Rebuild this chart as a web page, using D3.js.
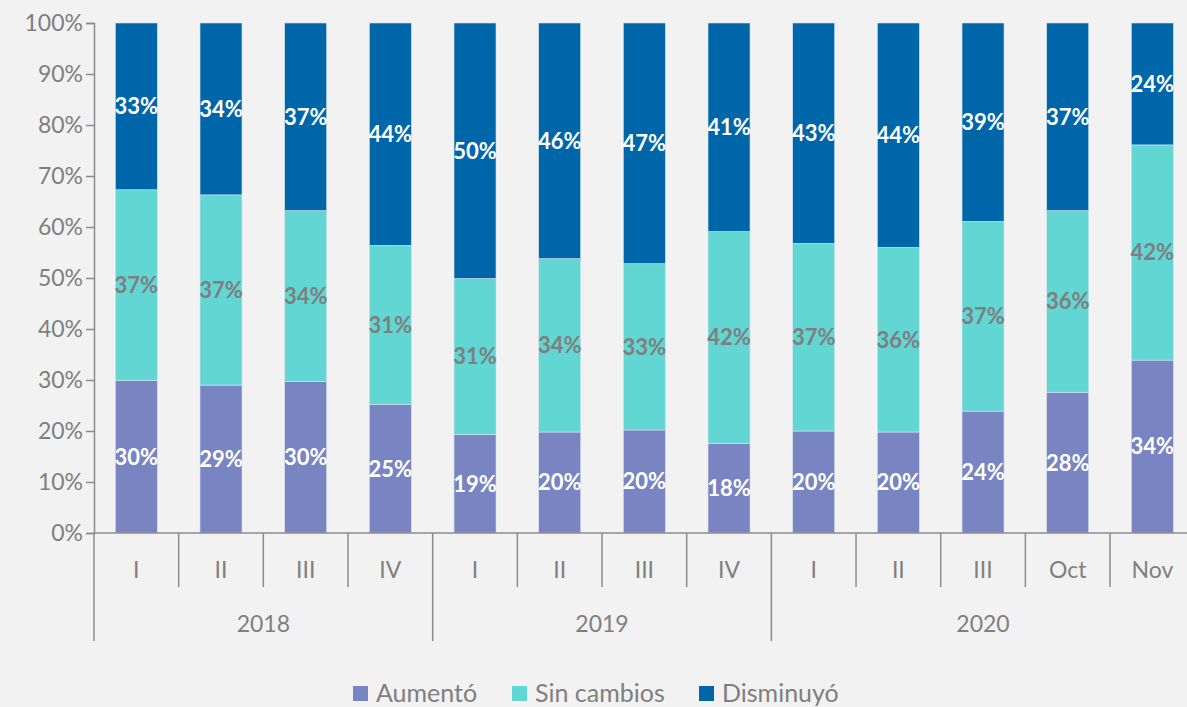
<!DOCTYPE html>
<html>
<head>
<meta charset="utf-8">
<script src="https://cdn.jsdelivr.net/npm/d3@7"></script>
<style>
  body { margin: 0; background: #f2f2f2; }
  svg { display: block; }
</style>
</head>
<body>
<svg id="chart"></svg>
<script>
// data
let periods = ["I", "II", "III", "IV", "I", "II", "III", "IV", "I", "II", "III", "Oct", "Nov"];
let years = ["2018", "2018", "2018", "2018", "2019", "2019", "2019", "2019", "2020", "2020", "2020", "2020", "2020"];
let aumento = [29.9, 29.0, 29.7, 25.2, 19.3, 19.8, 20.2, 17.6, 20.0, 19.8, 23.9, 27.6, 33.9];
let sinCambios = [37.4, 37.3, 33.5, 31.2, 30.6, 34.0, 32.6, 41.5, 36.8, 36.2, 37.2, 35.6, 42.2];
let disminuyo = [32.7, 33.7, 36.8, 43.6, 50.1, 46.2, 47.2, 40.9, 43.2, 44.0, 38.9, 36.8, 23.9];
let yTicks = [0, 10, 20, 30, 40, 50, 60, 70, 80, 90, 100];
let seriesNames = ["Aumentó", "Sin cambios", "Disminuyó"];

let colors = ["#7985c2", "#62d6d2", "#0066aa"];
let labelColors = ["#ffffff", "#7f7f7f", "#ffffff"];

var svg = d3.select("#chart").attr("width", 1187).attr("height", 707);

var marginLeft = 94, marginTop = 23, baseY = 533;
var band = 84.67;
var x = d3.scaleBand().domain(d3.range(periods.length)).range([marginLeft, marginLeft + band * periods.length]).paddingInner(0).paddingOuter(0);
var y = d3.scaleLinear().domain([0, 100]).range([baseY, marginTop]);
var barW = 42;

var rows = periods.map(function (p, i) {
    return { i: i, a: aumento[i], s: sinCambios[i], d: disminuyo[i] };
});
var stack = d3.stack().keys(["a", "s", "d"])(rows);

var font = "Lato, 'Open Sans', sans-serif";

// y axis
var yAxis = svg.append("g")
    .attr("transform", "translate(" + marginLeft + ",0)")
    .call(d3.axisLeft(y).tickValues(yTicks).tickSize(8).tickFormat(function (d) { return d + "%"; }));
yAxis.select(".domain").attr("stroke", "#8c8c8c").attr("stroke-width", 1.5);
yAxis.selectAll(".tick line").attr("stroke", "#8c8c8c").attr("stroke-width", 1.5);
yAxis.selectAll(".tick text")
    .attr("fill", "#7f7f7f")
    .attr("font-family", font)
    .attr("font-size", "23px")
    .attr("x", -11);

// bars
var layers = svg.append("g").selectAll("g")
    .data(stack)
    .enter().append("g")
    .attr("fill", function (d, k) { return colors[k]; });

layers.selectAll("rect")
    .data(function (d) { return d; })
    .enter().append("rect")
    .attr("x", function (d) { return x(d.data.i) + (band - barW) / 2; })
    .attr("width", barW)
    .attr("y", function (d) { return y(d[1]); })
    .attr("height", function (d) { return y(d[0]) - y(d[1]); })
    .attr("stroke", "#d6e4ef")
    .attr("stroke-width", 0.6);

// value labels
layers.each(function (layer, k) {
    d3.select(this).selectAll("text")
        .data(layer)
        .enter().append("text")
        .attr("x", function (d) { return x(d.data.i) + band / 2; })
        .attr("y", function (d) { return (y(d[0]) + y(d[1])) / 2; })
        .attr("dy", "0.36em")
        .attr("text-anchor", "middle")
        .attr("fill", labelColors[k])
        .attr("font-family", font)
        .attr("font-weight", "bold")
        .attr("font-size", "22px")
        .text(function (d) { return Math.round(d[1] - d[0]) + "%"; });
});

// x axis: baseline and category separators
var axisG = svg.append("g");
axisG.append("line")
    .attr("x1", marginLeft).attr("x2", 1187)
    .attr("y1", baseY).attr("y2", baseY)
    .attr("stroke", "#8c8c8c").attr("stroke-width", 1.5);

periods.forEach(function (p, i) {
    var xb = x(i);
    var isYearStart = i === 0 || years[i] !== years[i - 1];
    axisG.append("line")
        .attr("x1", xb).attr("x2", xb)
        .attr("y1", baseY).attr("y2", isYearStart ? 641 : 587)
        .attr("stroke", "#8c8c8c").attr("stroke-width", 1.5);
    axisG.append("text")
        .attr("x", xb + band / 2)
        .attr("y", 578)
        .attr("text-anchor", "middle")
        .attr("fill", "#7f7f7f")
        .attr("font-family", font)
        .attr("font-size", "23px")
        .text(p);
});

// year labels
var yearList = Array.from(new Set(years));
yearList.forEach(function (yr) {
    var idx = years.map(function (v, i) { return v === yr ? i : -1; }).filter(function (i) { return i >= 0; });
    var x0 = x(idx[0]), x1 = x(idx[idx.length - 1]) + band;
    axisG.append("text")
        .attr("x", (x0 + x1) / 2)
        .attr("y", 632)
        .attr("text-anchor", "middle")
        .attr("fill", "#7f7f7f")
        .attr("font-family", font)
        .attr("font-size", "23px")
        .text(yr);
});

// legend
var legendX = [353, 512, 699];
var legend = svg.append("g");
seriesNames.forEach(function (name, k) {
    legend.append("rect")
        .attr("x", legendX[k]).attr("y", 686)
        .attr("width", 15).attr("height", 15)
        .attr("fill", colors[k]);
    legend.append("text")
        .attr("x", legendX[k] + 23).attr("y", 702)
        .attr("fill", "#7f7f7f")
        .attr("font-family", font)
        .attr("font-size", "25px")
        .text(name);
});
</script>
</body>
</html>
